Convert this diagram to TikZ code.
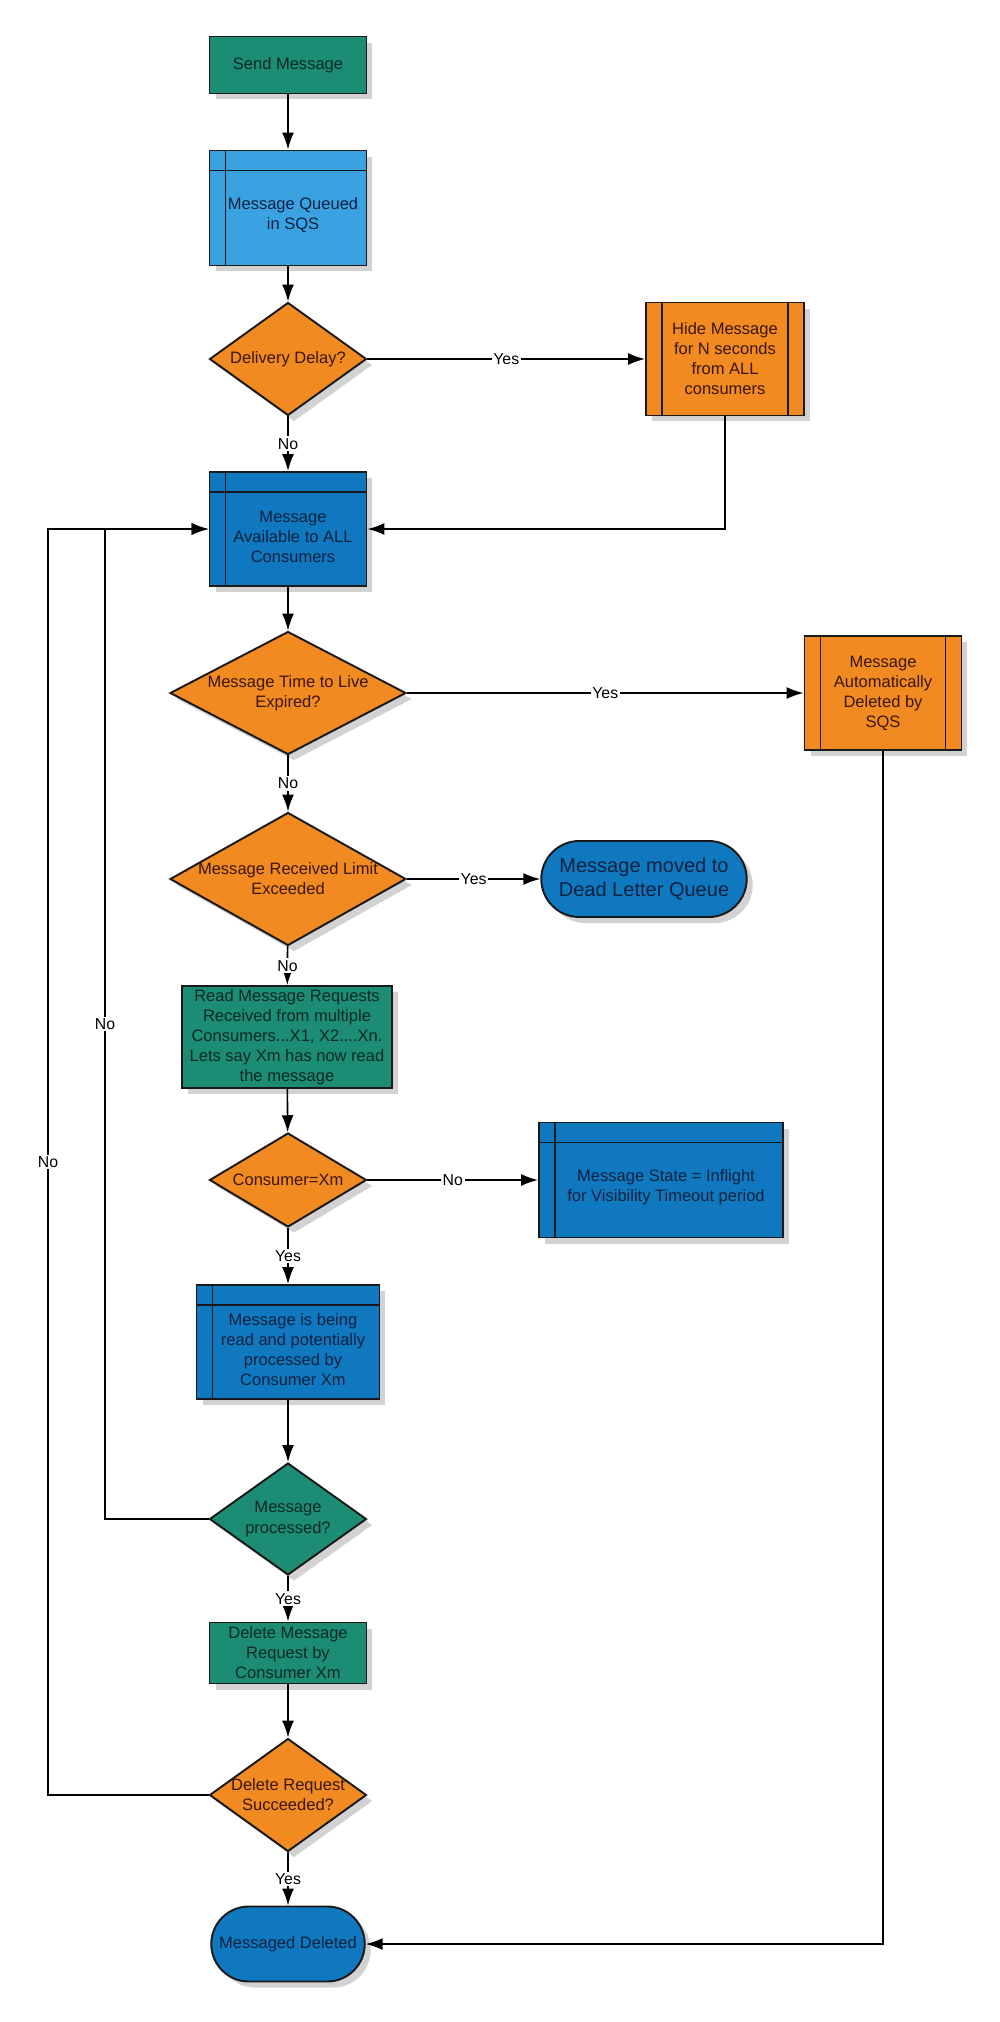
\documentclass[tikz,border=0pt]{standalone}
\usepackage{fontspec}
\setmainfont{Liberation Sans}
\usetikzlibrary{positioning,arrows.meta,shapes.geometric,shapes.misc,shadows}
\definecolor{sqsgreen}{HTML}{1C8C74}
\definecolor{sqsblue}{HTML}{1078BE}
\definecolor{sqslight}{HTML}{3BA2E1}
\definecolor{sqsorange}{HTML}{F28A22}
\definecolor{inkblue}{HTML}{0C2240}
\definecolor{inkbrown}{HTML}{3A1604}
\definecolor{inkgreen}{HTML}{0A2A22}

\begin{document}
\begin{tikzpicture}[x=0.02cm, y=-0.02cm,
      base/.style={draw=black!90, line width=1.1pt, align=center, inner sep=1pt,
        font=\fontsize{9.4}{11.4}\selectfont,
        drop shadow={shadow xshift=0.12cm, shadow yshift=-0.12cm, opacity=0.35}},
      act/.style={base, rectangle, fill=sqsgreen, text=inkgreen},
      storage/.style={base, rectangle, fill=sqsblue,
        path picture={
          \draw[draw=black!90, line width=1.1pt]
            ([xshift=0.32cm]path picture bounding box.north west) --
            ([xshift=0.32cm]path picture bounding box.south west);
          \draw[draw=black!90, line width=1.1pt]
            ([yshift=-0.4cm]path picture bounding box.north west) --
            ([yshift=-0.4cm]path picture bounding box.north east);}},
      stext/.style={align=center, inner sep=0pt, text=inkblue, xshift=0.1cm, yshift=-0.15cm,
        font=\fontsize{9.4}{11.4}\selectfont},
      subproc/.style={base, rectangle, fill=sqsorange, text=inkbrown,
        path picture={
          \draw[draw=black!90, line width=1.1pt]
            ([xshift=0.32cm]path picture bounding box.north west) --
            ([xshift=0.32cm]path picture bounding box.south west);
          \draw[draw=black!90, line width=1.1pt]
            ([xshift=-0.32cm]path picture bounding box.north east) --
            ([xshift=-0.32cm]path picture bounding box.south east);}},
      decision/.style={base, diamond, inner sep=0pt},
      qtext/.style={align=center, inner sep=0pt, font=\fontsize{9.4}{11.4}\selectfont},
      terminal/.style={base, rounded rectangle, fill=sqsblue, text=inkblue},
      lbl/.style={fill=white, inner sep=1pt, font=\fontsize{9}{10}\selectfont},
      arr/.style={->, >={Latex[length=0.34cm,width=0.24cm]}, line width=0.9pt}
    ]
      \fill[white] (0,0) rectangle (1000,2022);
      % main column
      \node[act, minimum width=3.14cm, minimum height=1.14cm] (send) at (288,65) {Send Message};
      \node[storage, fill=sqslight, minimum width=3.14cm, minimum height=2.30cm,
        label={[stext]center:{Message Queued\\in SQS}}] (queued) at (288,208) {};
      \node[decision, fill=sqsorange, minimum width=3.14cm, minimum height=2.26cm,
        label={[qtext, text=inkbrown]center:Delivery Delay?}] (delay) at (288,359) {};
      \node[subproc, minimum width=3.16cm, minimum height=2.26cm] (hide) at (725,359) {Hide Message\\for N seconds\\from ALL\\consumers};
      \node[storage, minimum width=3.14cm, minimum height=2.28cm,
        label={[stext]center:{Message\\Available to ALL\\Consumers}}] (avail) at (288,529) {};
      \node[decision, fill=sqsorange, minimum width=4.72cm, minimum height=2.46cm,
        label={[qtext, text=inkbrown]center:{Message Time to Live\\Expired?}}] (ttl) at (288,693) {};
      \node[subproc, minimum width=3.14cm, minimum height=2.28cm] (autodel) at (883,693) {Message\\Automatically\\Deleted by\\SQS};
      \node[decision, fill=sqsorange, minimum width=4.72cm, minimum height=2.66cm,
        label={[qtext, text=inkbrown]center:{Message Received Limit\\Exceeded}}] (limit) at (288,879) {};
      \node[terminal, minimum width=4.18cm, minimum height=1.52cm,
        font=\fontsize{11.4}{14}\selectfont] (dlq) at (644,879) {Message moved to\\Dead Letter Queue};
      \node[act, minimum width=4.2cm, minimum height=2.04cm] (read) at (287,1037) {Read Message Requests\\Received from multiple\\Consumers...X1, X2....Xn.\\Lets say Xm has now read\\the message};
      \node[decision, fill=sqsorange, minimum width=3.14cm, minimum height=1.88cm,
        label={[qtext, text=inkbrown]center:Consumer=Xm}] (cons) at (288,1180) {};
      \node[storage, minimum width=4.88cm, minimum height=2.30cm,
        label={[stext]center:{Message State = Inflight\\for Visibility Timeout period}}] (state) at (661,1180) {};
      \node[storage, minimum width=3.66cm, minimum height=2.28cm,
        label={[stext]center:{Message is being\\read and potentially\\processed by\\Consumer Xm}}] (proc) at (288,1342) {};
      \node[decision, fill=sqsgreen, minimum width=3.14cm, minimum height=2.24cm,
        label={[qtext, text=inkgreen]center:{Message\\processed?}}] (done) at (288,1519) {};
      \node[act, minimum width=3.14cm, minimum height=1.22cm] (delreq) at (288,1653) {Delete Message\\Request by\\Consumer Xm};
      \node[decision, fill=sqsorange, minimum width=3.14cm, minimum height=2.26cm,
        label={[qtext, text=inkbrown]center:{Delete Request\\Succeeded?}}] (succ) at (288,1795) {};
      \node[terminal, minimum width=3.14cm, minimum height=1.50cm] (deleted) at (288,1944) {Messaged Deleted};
      % return lanes
      \coordinate (laneA) at (105,0);
      \coordinate (laneB) at (48,0);
      % connectors
      \draw[arr] (send) -- (queued);
      \draw[arr] (queued) -- (delay);
      \draw[arr] (delay) -- node[lbl]{Yes} (hide);
      \draw[arr] (delay) -- node[lbl]{No} (avail);
      \draw[arr] (hide.south) |- (avail.east);
      \draw[arr] (avail) -- (ttl);
      \draw[arr] (ttl) -- node[lbl]{Yes} (autodel);
      \draw[arr] (ttl) -- node[lbl]{No} (limit);
      \draw[arr] (limit) -- node[lbl]{Yes} (dlq);
      \draw[arr] (limit) -- node[lbl]{No} (read);
      \draw[arr] (read) -- (cons);
      \draw[arr] (cons) -- node[lbl]{No} (state);
      \draw[arr] (cons) -- node[lbl]{Yes} (proc);
      \draw[arr] (proc) -- (done);
      \draw[arr] (done) -- node[lbl]{Yes} (delreq);
      \draw[arr] (delreq) -- (succ);
      \draw[arr] (succ) -- node[lbl]{Yes} (deleted);
      \draw[arr] (done.west) -- (done.west -| laneA) -- node[lbl]{No} (laneA |- avail.west) -- (avail.west);
      \draw[arr] (succ.west) -- (succ.west -| laneB) -- node[lbl]{No} (laneB |- avail.west) -- (avail.west);
      \draw[arr] (autodel.south) |- (deleted.east);
    \end{tikzpicture}
\end{document}
